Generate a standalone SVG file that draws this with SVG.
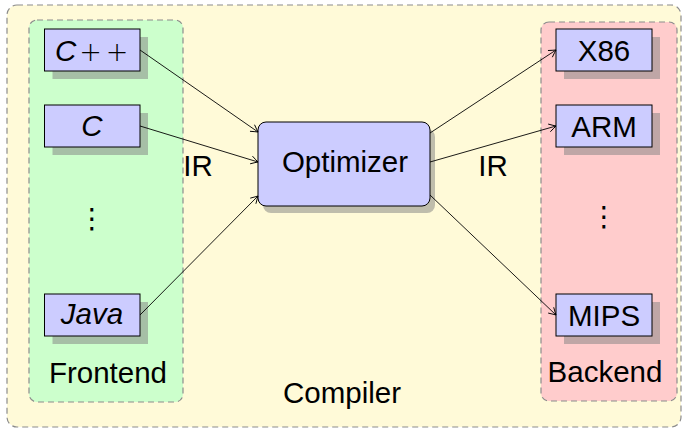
<svg xmlns="http://www.w3.org/2000/svg" width="687" height="432" viewBox="0 0 687 432">
  <style>
    .label { font-family: "Liberation Sans", Arial, sans-serif; font-size: 29.5px; fill: #000; }
    .ital { font-style: italic; }
    .op { font-family: "DejaVu Sans", sans-serif; font-size: 27px; font-weight: 300; }
    .dots { font-family: "DejaVu Sans", sans-serif; font-size: 28px; fill: #000; }
    .group { stroke: #8c8c8c; stroke-width: 1.2; stroke-dasharray: 6 4; }
    .node { fill: #ccccff; stroke: #000; stroke-width: 1; }
    .shadow { fill: #808080; fill-opacity: 0.5; }
    .edge { fill: none; stroke: #000; stroke-width: 0.9; marker-end: url(#to); }
  </style>
  <defs>
    <marker id="to" viewBox="-8 -5 10 10" refX="0" refY="0" markerWidth="10" markerHeight="10" markerUnits="userSpaceOnUse" orient="auto">
      <path d="M -7 -4 Q -2 -1 0 0 Q -2 1 -7 4" fill="none" stroke="#000" stroke-width="0.9"/>
    </marker>
  </defs>

  <!-- compiler container -->
  <g id="compiler">
    <rect x="7" y="5" width="674" height="422" rx="10" fill="#fffad8" class="group"/>
    <text x="342" y="403" text-anchor="middle" class="label">Compiler</text>
  </g>

  <!-- frontend container -->
  <g id="frontend">
    <rect x="29" y="20" width="154" height="382" rx="8" fill="#ccffcc" class="group"/>
    <text x="108" y="383" text-anchor="middle" class="label">Frontend</text>
    <text x="92" y="228" text-anchor="middle" class="dots">⋮</text>
  </g>

  <!-- backend container -->
  <g id="backend">
    <rect x="541" y="22" width="136" height="379" rx="8" fill="#ffcccc" class="group"/>
    <text x="605" y="382" text-anchor="middle" class="label">Backend</text>
    <text x="604" y="226" text-anchor="middle" class="dots">⋮</text>
  </g>

  <!-- source languages -->
  <g id="cpp">
    <rect x="52.5" y="37" width="95.5" height="42" class="shadow"/>
    <rect x="44.5" y="29" width="95.5" height="42" class="node"/>
    <text y="61" class="label"><tspan x="55" class="ital">C</tspan><tspan x="90.5" text-anchor="middle" class="op">+</tspan><tspan x="117" text-anchor="middle" class="op">+</tspan></text>
  </g>
  <g id="c">
    <rect x="52.5" y="113" width="95.5" height="42" class="shadow"/>
    <rect x="44.5" y="105" width="95.5" height="42" class="node"/>
    <text x="92" y="136" text-anchor="middle" class="label ital">C</text>
  </g>
  <g id="java">
    <rect x="52.5" y="302" width="95.5" height="42" class="shadow"/>
    <rect x="44.5" y="294" width="95.5" height="42" class="node"/>
    <text x="92" y="324" text-anchor="middle" class="label ital">Java</text>
  </g>

  <!-- optimizer -->
  <g id="optimizer">
    <rect x="263" y="129" width="172" height="84" rx="8" class="shadow"/>
    <rect x="258" y="122" width="172" height="84" rx="8" class="node"/>
    <text x="345" y="172" text-anchor="middle" class="label">Optimizer</text>
  </g>

  <!-- targets -->
  <g id="x86">
    <rect x="564" y="37" width="96" height="42" class="shadow"/>
    <rect x="556" y="29" width="96" height="42" class="node"/>
    <text x="604" y="61" text-anchor="middle" class="label">X86</text>
  </g>
  <g id="arm">
    <rect x="564" y="113" width="96" height="42" class="shadow"/>
    <rect x="556" y="105" width="96" height="42" class="node"/>
    <text x="604" y="137" text-anchor="middle" class="label">ARM</text>
  </g>
  <g id="mips">
    <rect x="564" y="302" width="96" height="42" class="shadow"/>
    <rect x="556" y="294" width="96" height="42" class="node"/>
    <text x="604" y="326" text-anchor="middle" class="label">MIPS</text>
  </g>

  <!-- connectors -->
  <g id="edges">
    <line x1="140" y1="50" x2="258" y2="132" class="edge"/>
    <line x1="140" y1="126" x2="258" y2="162" class="edge"/>
    <line x1="140" y1="315" x2="258" y2="196" class="edge"/>
    <line x1="430" y1="133" x2="556" y2="50" class="edge"/>
    <line x1="430" y1="162" x2="556" y2="126" class="edge"/>
    <line x1="430" y1="195" x2="556" y2="315" class="edge"/>
    <text x="198" y="176" text-anchor="middle" class="label">IR</text>
    <text x="493" y="176" text-anchor="middle" class="label">IR</text>
  </g>
</svg>
